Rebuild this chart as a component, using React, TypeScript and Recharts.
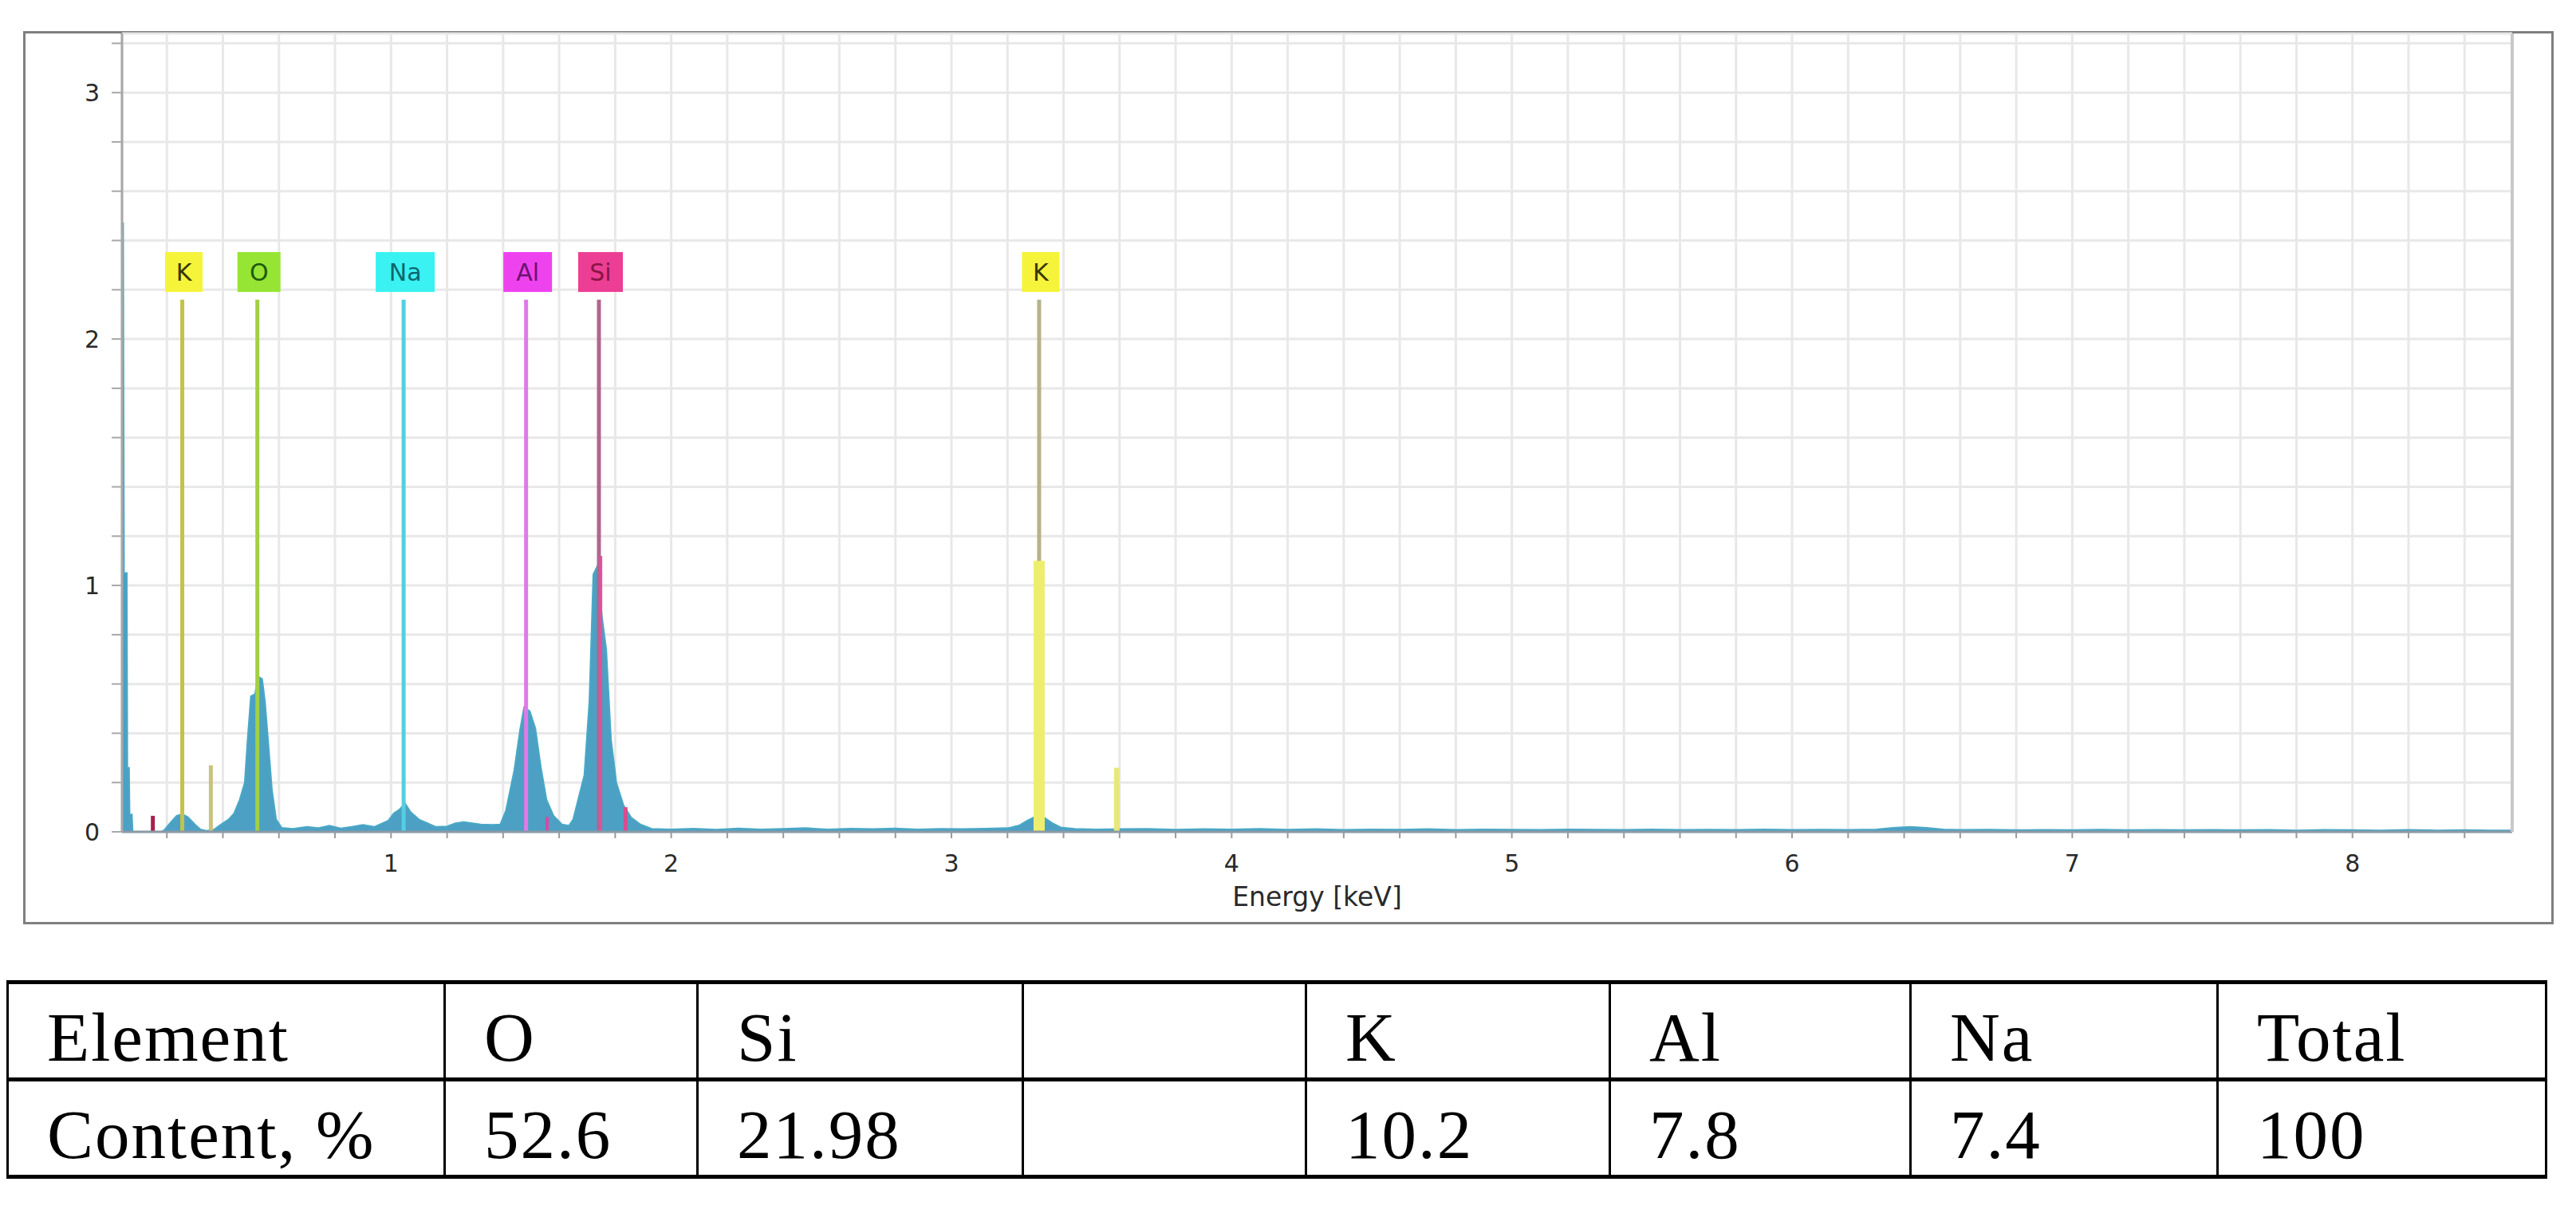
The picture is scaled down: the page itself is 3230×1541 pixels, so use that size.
import { ComposedChart, Area, XAxis, YAxis, CartesianGrid, ReferenceLine, ReferenceDot } from 'recharts';

// ======================
// SPECTRUM DATA (energy in keV, intensity)
// ======================
const energyKeV = [
  0.04, 0.044, 0.047, 0.057, 0.059, 0.065, 0.067, 0.075, 0.078, 0.18,
  0.19, 0.2, 0.215, 0.235, 0.255, 0.275, 0.3, 0.32, 0.34, 0.37,
  0.39, 0.42, 0.44, 0.46, 0.478, 0.488, 0.5, 0.515, 0.525, 0.54,
  0.55, 0.562, 0.575, 0.59, 0.61, 0.65, 0.7, 0.74, 0.78, 0.82,
  0.86, 0.9, 0.94, 0.97, 0.99, 1.01, 1.03, 1.05, 1.07, 1.1,
  1.13, 1.16, 1.2, 1.23, 1.26, 1.29, 1.32, 1.36, 1.39, 1.41,
  1.44, 1.46, 1.475, 1.495, 1.515, 1.535, 1.555, 1.58, 1.61, 1.635,
  1.65, 1.67, 1.69, 1.708, 1.722, 1.737, 1.753, 1.768, 1.785, 1.804,
  1.83, 1.857, 1.89, 1.93, 2.0, 2.08, 2.16, 2.24, 2.32, 2.4,
  2.48, 2.56, 2.64, 2.72, 2.8, 2.88, 2.96, 3.04, 3.12, 3.2,
  3.24, 3.27, 3.3, 3.33, 3.36, 3.39, 3.44, 3.52, 3.6, 3.7,
  3.8, 3.9, 4.0, 4.1, 4.2, 4.3, 4.4, 4.5, 4.6, 4.7,
  4.8, 4.9, 5.0, 5.1, 5.2, 5.3, 5.4, 5.5, 5.6, 5.7,
  5.8, 5.9, 6.0, 6.1, 6.2, 6.3, 6.36, 6.42, 6.48, 6.54,
  6.6, 6.7, 6.8, 6.9, 7.0, 7.1, 7.2, 7.3, 7.4, 7.5,
  7.6, 7.7, 7.8, 7.9, 8.0, 8.1, 8.2, 8.3, 8.4, 8.5,
  8.57,
];
const counts = [
  2.47, 2.47, 1.05, 1.05, 0.26, 0.26, 0.07, 0.07, 0, 0,
  0.006, 0.02, 0.04, 0.065, 0.072, 0.06, 0.03, 0.01, 0.004, 0.01,
  0.027, 0.05, 0.075, 0.13, 0.2, 0.37, 0.55, 0.56, 0.63, 0.62,
  0.53, 0.36, 0.17, 0.05, 0.016, 0.012, 0.02, 0.015, 0.025, 0.014,
  0.02, 0.028, 0.02, 0.035, 0.045, 0.075, 0.09, 0.115, 0.08, 0.05,
  0.035, 0.02, 0.022, 0.035, 0.04, 0.035, 0.03, 0.028, 0.03, 0.085,
  0.25, 0.41, 0.505, 0.49, 0.42, 0.26, 0.13, 0.065, 0.03, 0.025,
  0.05, 0.14, 0.23, 0.53, 1.045, 1.08, 0.87, 0.74, 0.375, 0.2,
  0.107, 0.058, 0.03, 0.012, 0.01, 0.013, 0.009, 0.014, 0.01, 0.012,
  0.015, 0.01, 0.013, 0.011, 0.014, 0.01, 0.012, 0.011, 0.013, 0.015,
  0.025, 0.045, 0.062, 0.058, 0.035, 0.018, 0.012, 0.01, 0.011, 0.012,
  0.009, 0.011, 0.01, 0.012, 0.009, 0.011, 0.008, 0.01, 0.009, 0.011,
  0.008, 0.01, 0.009, 0.008, 0.01, 0.009, 0.008, 0.01, 0.008, 0.009,
  0.008, 0.01, 0.008, 0.009, 0.008, 0.01, 0.016, 0.02, 0.016, 0.01,
  0.008, 0.009, 0.007, 0.008, 0.007, 0.009, 0.007, 0.008, 0.007, 0.008,
  0.007, 0.008, 0.006, 0.008, 0.007, 0.006, 0.008, 0.006, 0.007, 0.006,
  0.006,
];

const xTicks = [
  0.2, 0.4, 0.6, 0.8, 1, 1.2, 1.4, 1.6, 1.8, 2, 2.2, 2.4, 2.6, 2.8, 3, 3.2, 3.4, 3.6, 3.8, 4,
  4.2, 4.4, 4.6, 4.8, 5, 5.2, 5.4, 5.6, 5.8, 6, 6.2, 6.4, 6.6, 6.8, 7, 7.2, 7.4, 7.6, 7.8, 8, 8.2, 8.4,
];
const yTicks = [0, 0.2, 0.4, 0.6, 0.8, 1, 1.2, 1.4, 1.6, 1.8, 2, 2.2, 2.4, 2.6, 2.8, 3, 3.2];

// element identification labels
const labelElements = ['K', 'O', 'Na', 'Al', 'Si', 'K'];
const labelEnergies = [0.255, 0.523, 1.045, 1.482, 1.742, 3.313];

// short peak marker bars
const markerEnergies = [0.15, 0.357, 1.557, 1.748, 1.837, 3.313, 3.59];
const markerHeights = [0.065, 0.27, 0.06, 1.12, 0.1, 1.1, 0.26];

// composition table
const tableHeader = ['Element', 'O', 'Si', '', 'K', 'Al', 'Na', 'Total'];
const tableRow = ['Content, %', '52.6', '21.98', '', '10.2', '7.8', '7.4', '100'];

// ======================
// STYLES
// ======================
const LABEL_LINE_TOP = 2.16;
const LABEL_Y = 2.272;

const ELEMENT_STYLE: Record<string, { box: string; text: string; width: number }> = {
  K: { box: '#f6f43a', text: '#3a3600', width: 47 },
  O: { box: '#96e534', text: '#1e5a0c', width: 54 },
  Na: { box: '#3af2f2', text: '#0e6670', width: 74 },
  Al: { box: '#ef42ef', text: '#6c1470', width: 61 },
  Si: { box: '#ec3e94', text: '#8a1446', width: 56 },
};
const LABEL_LINE_COLORS = ['#c4c24a', '#a2d044', '#54cfe2', '#e07ae8', '#b0668e', '#b6b28a'];
const MARKER_COLORS = ['#a8204e', '#cbc27c', '#d64aa4', '#e2509c', '#d84c8e', '#eeee6e', '#e8e87a'];
const MARKER_WIDTHS = [5, 5, 4, 4, 5, 14, 7];

const FILL = '#4ba0c4';
const GRID = '#e8e8e8';
const FONT = '"DejaVu Sans", sans-serif';

const COL_WIDTHS = [548, 317, 408, 355, 381, 377, 385, 412];

export default function App() {
  const data = energyKeV.map((e, i) => ({ e, c: counts[i] }));

  const cellStyle = {
    borderTop: '5px solid #000',
    borderBottom: '5px solid #000',
    borderLeft: '3px solid #000',
    borderRight: '3px solid #000',
    height: 101,
    padding: '16px 0 0 48px',
    verticalAlign: 'middle' as const,
    lineHeight: 1,
    whiteSpace: 'nowrap' as const,
  };

  return (
    <div style={{ position: 'absolute', left: 0, top: 0, width: 3230, height: 1541, background: '#fff' }}>
      {/* chart frame */}
      <div
        style={{
          position: 'absolute', left: 29, top: 39, width: 3173, height: 1120,
          border: '3px solid #7f7f7f', boxSizing: 'border-box',
        }}
      />
      <div style={{ position: 'absolute', left: 0, top: 0, fontFamily: FONT }}>
        <ComposedChart width={3230} height={1170} data={data} margin={{ top: 42, right: 0, bottom: 0, left: 0 }}>
          <CartesianGrid stroke={GRID} strokeWidth={3} />
          <XAxis
            dataKey="e"
            type="number"
            domain={[0.04, 8.57]}
            allowDataOverflow
            ticks={xTicks}
            interval={0}
            height={127}
            tickSize={8}
            tickMargin={21}
            tickFormatter={(v: number) => (Number.isInteger(v) ? String(v) : '')}
            tick={{ fill: '#2a2a2a', fontSize: 30, fontFamily: FONT }}
            tickLine={{ stroke: '#9a9a9a', strokeWidth: 2 }}
            axisLine={{ stroke: '#8c9aa6', strokeWidth: 3 }}
            label={{ value: 'Energy [keV]', position: 'insideBottom', offset: 34, fill: '#2a2a2a', fontSize: 33, fontFamily: FONT }}
          />
          <YAxis
            type="number"
            domain={[0, 3.24]}
            allowDataOverflow
            ticks={yTicks}
            interval={0}
            width={153}
            tickSize={13}
            tickMargin={15}
            tickFormatter={(v: number) => (Number.isInteger(v) ? String(v) : '')}
            tick={{ fill: '#2a2a2a', fontSize: 30, fontFamily: FONT }}
            tickLine={{ stroke: '#a8a8a8', strokeWidth: 2 }}
            axisLine={{ stroke: '#a8a8a8', strokeWidth: 3 }}
          />
          <YAxis
            yAxisId="r"
            orientation="right"
            type="number"
            domain={[0, 3.24]}
            width={80}
            tick={false}
            tickLine={false}
            axisLine={{ stroke: '#c8c8c8', strokeWidth: 4 }}
          />
          <Area
            type="linear"
            dataKey="c"
            stroke="#4aa8c6"
            strokeWidth={2}
            fill={FILL}
            fillOpacity={1}
            isAnimationActive={false}
            dot={false}
            activeDot={false}
          />
          {labelEnergies.map((e, i) => (
            <ReferenceLine
              key={`ll${i}`}
              segment={[{ x: e, y: 0 }, { x: e, y: LABEL_LINE_TOP }]}
              stroke={LABEL_LINE_COLORS[i]}
              strokeWidth={5}
              ifOverflow="visible"
            />
          ))}
          {markerEnergies.map((e, i) => (
            <ReferenceLine
              key={`mk${i}`}
              segment={[{ x: e, y: 0 }, { x: e, y: markerHeights[i] }]}
              stroke={MARKER_COLORS[i]}
              strokeWidth={MARKER_WIDTHS[i]}
              ifOverflow="visible"
            />
          ))}
          {labelEnergies.map((e, i) => {
            const el = labelElements[i];
            const st = ELEMENT_STYLE[el];
            return (
              <ReferenceDot
                key={`lb${i}`}
                x={e}
                y={LABEL_Y}
                ifOverflow="visible"
                shape={(p: any) => (
                  <g>
                    <rect x={p.cx + 2 - st.width / 2} y={p.cy - 25} width={st.width} height={50} fill={st.box} />
                    <text
                      x={p.cx + 2}
                      y={p.cy + 11}
                      textAnchor="middle"
                      fontSize={30}
                      fontFamily={FONT}
                      fill={st.text}
                    >
                      {el}
                    </text>
                  </g>
                )}
              />
            );
          })}
        </ComposedChart>
      </div>

      {/* composition table */}
      <table
        style={{
          position: 'absolute', left: 8, top: 1229, width: 3183,
          borderCollapse: 'collapse', tableLayout: 'fixed',
          fontFamily: '"Liberation Serif", serif', fontSize: 87, letterSpacing: 2, color: '#000',
        }}
      >
        <colgroup>
          {COL_WIDTHS.map((w, i) => <col key={i} style={{ width: w }} />)}
        </colgroup>
        <tbody>
          <tr>
            {tableHeader.map((t, i) => <td key={i} style={cellStyle}>{t}</td>)}
          </tr>
          <tr>
            {tableRow.map((t, i) => <td key={i} style={cellStyle}>{t}</td>)}
          </tr>
        </tbody>
      </table>
    </div>
  );
}
